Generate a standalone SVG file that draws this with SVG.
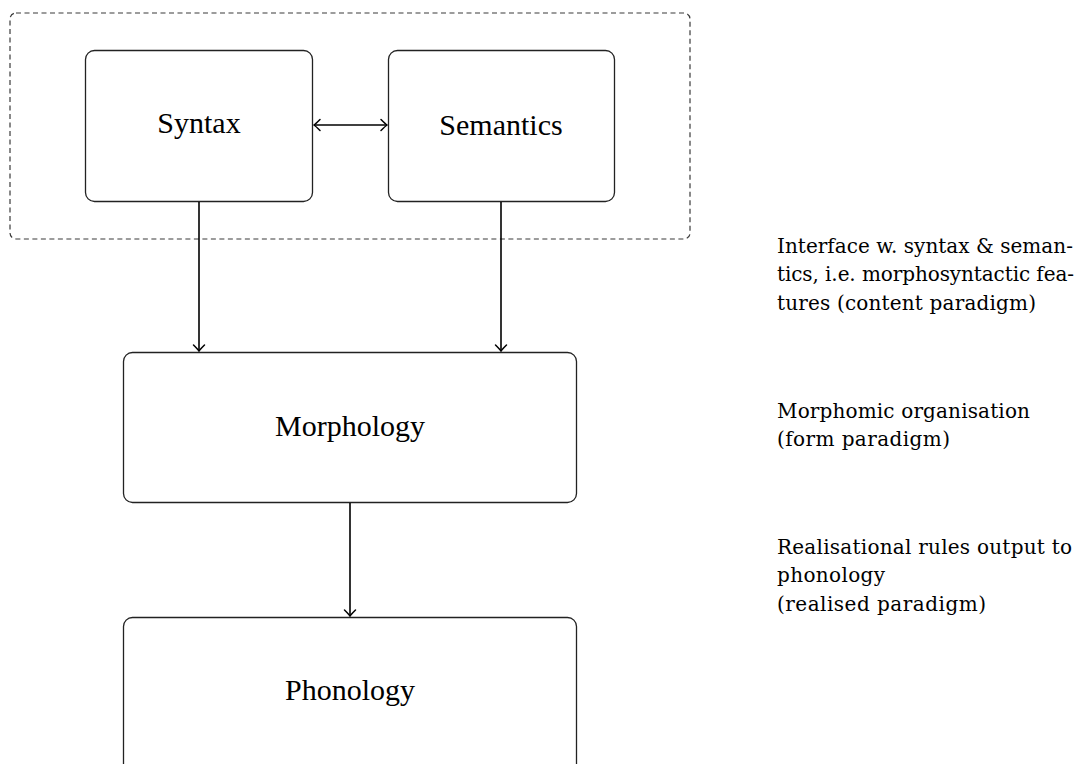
<svg xmlns="http://www.w3.org/2000/svg" width="1092" height="764" viewBox="0 0 1092 764">
  <style>
    .box { fill: #ffffff; stroke: #222222; stroke-width: 1.3; }
    .group { fill: none; stroke: #3a3a3a; stroke-width: 1.2; stroke-dasharray: 5 3.5; }
    .label { font-family: "Liberation Serif", "DejaVu Serif", serif; font-size: 30px; fill: #000000; text-anchor: middle; }
    .note { font-family: "DejaVu Serif", "Liberation Serif", serif; font-size: 20px; fill: #000000; }
    .edge { fill: none; stroke: #000000; stroke-width: 1.6; }
  </style>
  <defs>
    <marker id="tip" markerUnits="userSpaceOnUse" markerWidth="14" markerHeight="14" refX="0" refY="0" viewBox="-8 -7 10 14" orient="auto-start-reverse">
      <path d="M-6,-5.5 Q-1.5,-1 0,0 Q-1.5,1 -6,5.5" fill="none" stroke="#000000" stroke-width="1.5" stroke-linecap="round"/>
    </marker>
  </defs>

  <rect width="1092" height="764" fill="#ffffff"/>

  <!-- dashed frame around syntax and semantics -->
  <rect id="interface-frame" class="group" x="10" y="13" width="680" height="226" rx="6"/>

  <g id="syntax">
    <rect class="box" x="85.5" y="50.5" width="227" height="151" rx="9"/>
    <text class="label" x="199" y="133">Syntax</text>
  </g>

  <g id="semantics">
    <rect class="box" x="388.5" y="50.5" width="226" height="151" rx="9"/>
    <text class="label" x="501" y="135">Semantics</text>
  </g>

  <g id="morphology">
    <rect class="box" x="123.5" y="352.5" width="453" height="150" rx="9"/>
    <text class="label" x="350" y="436">Morphology</text>
  </g>

  <g id="phonology">
    <rect class="box" x="123.5" y="617.5" width="453" height="170" rx="9"/>
    <text class="label" x="350" y="700">Phonology</text>
  </g>

  <g id="connectors">
    <line class="edge" x1="314" y1="125" x2="387" y2="125" marker-start="url(#tip)" marker-end="url(#tip)"/>
    <line class="edge" x1="199" y1="202" x2="199" y2="351" marker-end="url(#tip)"/>
    <line class="edge" x1="501" y1="202" x2="501" y2="351" marker-end="url(#tip)"/>
    <line class="edge" x1="350" y1="503" x2="350" y2="616" marker-end="url(#tip)"/>
  </g>

  <g id="annotations">
    <text class="note" x="777" y="253" textLength="296" lengthAdjust="spacing">Interface w.  syntax &amp; seman-</text>
    <text class="note" x="777" y="281" textLength="297" lengthAdjust="spacing">tics, i.e.  morphosyntactic fea-</text>
    <text class="note" x="777" y="310" textLength="259" lengthAdjust="spacing">tures (content paradigm)</text>

    <text class="note" x="777" y="418" textLength="253" lengthAdjust="spacing">Morphomic organisation</text>
    <text class="note" x="777" y="446" textLength="173" lengthAdjust="spacing">(form paradigm)</text>

    <text class="note" x="777" y="554" textLength="295" lengthAdjust="spacing">Realisational rules output to</text>
    <text class="note" x="777" y="582" textLength="108" lengthAdjust="spacing">phonology</text>
    <text class="note" x="777" y="611" textLength="209" lengthAdjust="spacing">(realised paradigm)</text>
  </g>
</svg>
